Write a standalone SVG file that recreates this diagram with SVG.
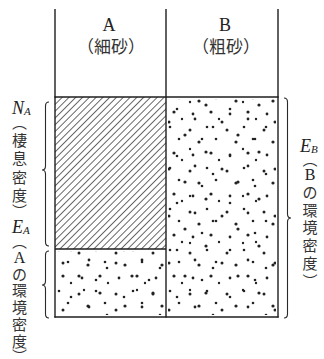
<svg xmlns="http://www.w3.org/2000/svg" width="324" height="359" viewBox="0 0 324 359">
<style>
.ln{stroke:#1e1e1e;stroke-width:1.4;fill:none}
.br{stroke:#2a2a2a;stroke-width:1.1;fill:none}
.lat{font-family:"Liberation Serif","Noto Sans CJK JP",serif;fill:#222}
.cjk{font-family:"Noto Sans CJK JP","Liberation Serif",sans-serif;fill:#333}
.it{font-family:"Liberation Serif",serif;font-style:italic;fill:#222}
</style>
<defs>
<pattern id="hatch" patternUnits="userSpaceOnUse" width="4.8" height="10" patternTransform="rotate(45)">
<line x1="2.4" y1="0" x2="2.4" y2="10" stroke="#555" stroke-width="0.9"/>
</pattern>
<pattern id="dotA" patternUnits="userSpaceOnUse" width="37" height="41">
<g fill="#222">
<circle cx="5" cy="7" r="1.5"/><circle cx="22" cy="4" r="1.3"/><circle cx="14" cy="19" r="1.6"/>
<circle cx="31" cy="16" r="1.3"/><circle cx="8" cy="32" r="1.4"/><circle cx="26" cy="30" r="1.6"/>
<circle cx="34" cy="37" r="1.2"/>
</g>
</pattern>
<pattern id="dotB" patternUnits="userSpaceOnUse" width="53" height="47" x="7" y="3">
<g fill="#222">
<circle cx="11" cy="12" r="1.3"/><circle cx="40" cy="8" r="1.6"/><circle cx="29" cy="22" r="1.4"/>
<circle cx="3" cy="25" r="1.5"/><circle cx="47" cy="30" r="1.3"/><circle cx="19" cy="38" r="1.6"/>
<circle cx="36" cy="42" r="1.3"/><circle cx="24" cy="5" r="1.2"/>
</g>
</pattern>
</defs>

<g id="fills">
<rect x="55" y="97" width="111" height="152" fill="url(#hatch)"/>
<rect x="57" y="251" width="107" height="64" fill="url(#dotA)"/>
<rect x="57" y="251" width="107" height="64" fill="url(#dotB)"/>
<rect x="168" y="99" width="108" height="216" fill="url(#dotA)"/>
<rect x="168" y="99" width="108" height="216" fill="url(#dotB)"/>
</g>

<g id="frame">
<line class="ln" x1="55" y1="9" x2="55" y2="317.5"/>
<line class="ln" x1="166" y1="9" x2="166" y2="317.5"/>
<line class="ln" x1="278" y1="9" x2="278" y2="317.5"/>
<line class="ln" x1="54.3" y1="97" x2="278.7" y2="97"/>
<line class="ln" x1="55" y1="249" x2="166" y2="249"/>
<line class="ln" x1="54.3" y1="317" x2="278.7" y2="317"/>
</g>

<g id="nodeA">
<text class="lat" x="109" y="31" font-size="18" text-anchor="middle">A</text>
<text class="cjk" x="111" y="53" font-size="17" text-anchor="middle">（細砂）</text>
</g>
<g id="nodeB">
<text class="lat" x="225" y="31" font-size="18" text-anchor="middle">B</text>
<text class="cjk" x="226" y="53" font-size="17" text-anchor="middle">（粗砂）</text>
</g>

<g id="connectors">
<path class="br" d="M49,102 Q45.5,102 45.5,106 L45.5,166 Q45.5,170 42,170 Q45.5,170 45.5,174 L45.5,242 Q45.5,246 49,246"/>
<path class="br" d="M49,251 Q45.5,251 45.5,255 L45.5,281 Q45.5,285 42,285 Q45.5,285 45.5,289 L45.5,314 Q45.5,318 49,318"/>
<path class="br" d="M284,98 Q287.5,98 287.5,102 L287.5,214 Q287.5,218 291,218 Q287.5,218 287.5,222 L287.5,314 Q287.5,318 284,318"/>
</g>

<g id="labelNA">
<text class="it" x="12" y="114" font-size="18">N<tspan font-size="11" dy="1">A</tspan></text>
<text class="cjk" font-size="15" text-anchor="middle">
<tspan x="19.5" y="128">︵</tspan><tspan x="19.5" y="146">棲</tspan><tspan x="19.5" y="164">息</tspan><tspan x="19.5" y="183">密</tspan><tspan x="19.5" y="201">度</tspan><tspan x="19.5" y="217">︶</tspan>
</text>
</g>

<g id="labelEA">
<text class="it" x="12" y="233" font-size="18">E<tspan font-size="11" dy="1">A</tspan></text>
<text class="cjk" font-size="15" text-anchor="middle">
<tspan x="19.5" y="247">︵</tspan><tspan class="lat" x="19.5" y="263" font-size="16">A</tspan><tspan x="19.5" y="280">の</tspan><tspan x="19.5" y="296">環</tspan><tspan x="19.5" y="313">境</tspan><tspan x="19.5" y="330">密</tspan><tspan x="19.5" y="347">度</tspan><tspan x="19.5" y="362">︶</tspan>
</text>
</g>

<g id="labelEB">
<text class="it" x="300" y="152" font-size="18">E<tspan font-size="11" dy="1">B</tspan></text>
<text class="cjk" font-size="15" text-anchor="middle">
<tspan x="310" y="165">︵</tspan><tspan class="lat" x="310" y="180" font-size="16">B</tspan><tspan x="310" y="198">の</tspan><tspan x="310" y="216">環</tspan><tspan x="310" y="233">境</tspan><tspan x="310" y="251">密</tspan><tspan x="310" y="269">度</tspan><tspan x="310" y="287">︶</tspan>
</text>
</g>
</svg>
